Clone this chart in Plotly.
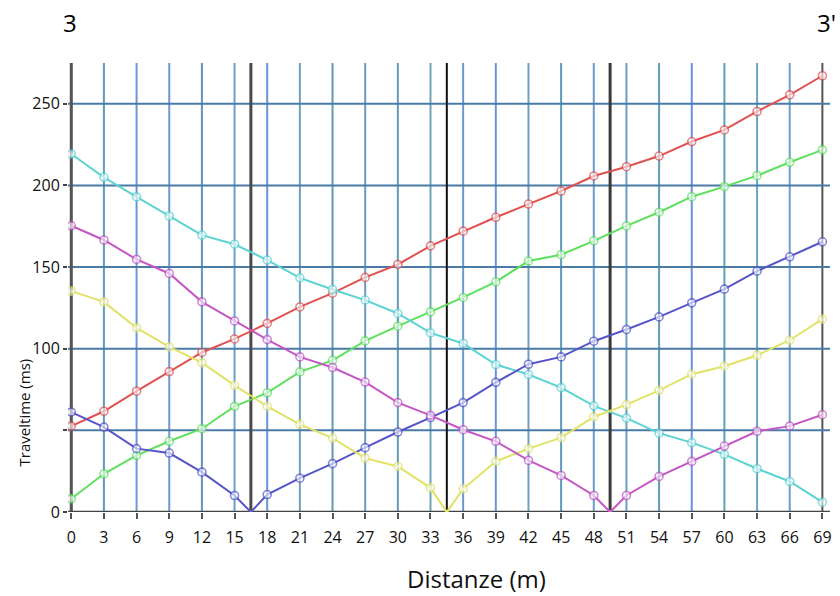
import plotly.graph_objects as go

# ---- data ----
distances = list(range(0, 70, 3))  # geophone positions (m)
x_tick_labels = [str(d) for d in distances]
y_tick_values = [0, 50, 100, 150, 200, 250]
y_tick_labels = ["0", "", "100", "150", "200", "250"]
sources = [16.5, 34.5, 49.5]  # shot positions (black vertical lines)

red = [52.6, 61.7, 74, 86, 97.7, 106, 115.5, 125.6, 134, 143.7, 151.6, 163, 172, 180.5,
       188.6, 196.6, 205.8, 211.5, 218, 226.9, 234, 245.3, 255.5, 267.2]
green = [8.1, 23.4, 34.7, 43.3, 51, 64.7, 73, 85.8, 92.9, 104.8, 113.8, 122.6, 131.4, 141,
         153.7, 157.6, 166.1, 175.2, 183.6, 193.1, 199.3, 206, 214.2, 221.8]
cyan = [219.3, 205, 193, 181.3, 169.6, 164, 154.3, 143.4, 136.3, 129.8, 121.6, 109.7, 103.2,
        90.3, 84.2, 76.2, 65, 57.5, 48.3, 42.5, 35.3, 26.5, 18.7, 6]
blue = [61.2, 52, 38.8, 36.1, 24.4, 10.1, 10.7, 20.7, 29.6, 39.4, 49, 57.8, 67, 79.4,
        90.5, 95, 104.6, 111.8, 119.5, 128.1, 136.5, 147.5, 156.3, 165.5]
yellow = [135.3, 128.7, 112.8, 101.1, 91.5, 77.6, 64.7, 53.7, 45.3, 33, 27.9, 14.8, 14.2,
          31, 38.8, 45.5, 58.2, 65.8, 74.5, 84.4, 89.3, 96, 105.2, 118.1]
magenta = [175.3, 166.6, 154.7, 146.1, 128.7, 117, 105.6, 95, 88.5, 79.6, 67, 59.2, 50.4,
           43.3, 31.6, 22.4, 10.1, 10.1, 21.8, 31, 40.4, 49.4, 52.6, 59.6]

series = [
    ("red", red, "#e05252", None),
    ("green", green, "#5ee05e", None),
    ("cyan", cyan, "#5cd3d3", None),
    ("blue", blue, "#5555c8", sources[0]),
    ("yellow", yellow, "#e2e266", sources[1]),
    ("magenta", magenta, "#c457c4", sources[2]),
]

# vertical grid colours vary slightly (blue / teal) in the original
vgrid_colors = ["#6f9fc0", "#5f9bb8", "#6a96d6", "#6f98d0", "#5f95b5", "#6aa0c8",
                "#6a94d8", "#6f9fbc", "#5f9ab5", "#6a9cc0", "#609cb4", "#6fa3b8",
                "#6a98d2", "#6a96d6", "#6f9fc0", "#5f9bb8", "#6a9cc8", "#6aa0c0",
                "#5f9bb8", "#6a8ee0", "#5fa3b8", "#6aa6c4", "#6f9fc0", "#555555"]

fig = go.Figure()

for name, vals, color, src in series:
    xs = list(distances)
    ys = list(vals)
    sizes = [8] * len(xs)
    if src is not None:
        i = next(k for k, d in enumerate(xs) if d > src)
        xs.insert(i, src)
        ys.insert(i, 0)
        sizes.insert(i, 3)
    fig.add_trace(go.Scatter(
        x=xs, y=ys, mode="lines+markers", name=name,
        line=dict(color=color, width=2),
        marker=dict(size=sizes, color="rgba(255,255,255,0.85)",
                    line=dict(color=color, width=1.6)),
        showlegend=False, hoverinfo="skip",
    ))

shapes = []
for d, c in zip(distances, vgrid_colors):
    shapes.append(dict(type="line", xref="x", yref="paper", x0=d, x1=d, y0=0, y1=1,
                       line=dict(color=c, width=2), layer="below"))
for v in y_tick_values:
    shapes.append(dict(type="line", xref="paper", yref="y", x0=0, x1=1, y0=v, y1=v,
                       line=dict(color="#4a7aa6", width=2), layer="below"))
src_styles = [("#4a4a4a", 3), ("#111111", 2), ("#3a3a3a", 3)]
for s, (c, w) in zip(sources, src_styles):
    shapes.append(dict(type="line", xref="x", yref="paper", x0=s, x1=s, y0=0, y1=1,
                       line=dict(color=c, width=w), layer="below"))
# frame lines (left at 0, bottom at 0)
shapes.append(dict(type="line", xref="x", yref="paper", x0=distances[0], x1=distances[0],
                   y0=0, y1=1, line=dict(color="#555555", width=3), layer="below"))
shapes.append(dict(type="line", xref="paper", yref="y", x0=0, x1=1, y0=0, y1=0,
                   line=dict(color="#444444", width=2.5), layer="below"))

font_family = "'Open Sans', 'Noto Sans', sans-serif"

fig.update_layout(
    width=840, height=596,
    margin=dict(l=68, r=10, t=63, b=84),
    paper_bgcolor="white", plot_bgcolor="white",
    font=dict(family=font_family, color="#111111"),
    shapes=shapes,
    xaxis=dict(
        range=[-0.3, 69.7], tickvals=distances, ticktext=x_tick_labels,
        showgrid=False, zeroline=False, automargin=False,
        ticks="outside", ticklen=6, tickwidth=2, tickcolor="#555555",
        tickfont=dict(size=16, family=font_family), showline=False,
        ticklabelstandoff=5,
    ),
    yaxis=dict(
        range=[0, 275], tickvals=y_tick_values, ticktext=y_tick_labels,
        showgrid=False, zeroline=False, automargin=False,
        ticks="outside", ticklen=4, tickwidth=2, tickcolor="#444444",
        tickfont=dict(size=16, family=font_family), showline=False,
    ),
    annotations=[
        dict(text="3", xref="x", yref="paper", x=-0.1, y=1.0, yshift=41,
             xanchor="center", yanchor="middle", showarrow=False,
             font=dict(size=24, family=font_family, color="#000000")),
        dict(text="3'", xref="x", yref="paper", x=69.4, y=1.0, yshift=41,
             xanchor="center", yanchor="middle", showarrow=False,
             font=dict(size=24, family=font_family, color="#000000")),
        dict(text="Distanze (m)", xref="x", yref="paper", x=37.2, y=0, yshift=-66,
             xanchor="center", yanchor="middle", showarrow=False,
             font=dict(size=24, family=font_family, color="#111111")),
        dict(text="Traveltime (ms)", xref="paper", yref="y", x=0, xshift=-44, y=61,
             xanchor="center", yanchor="middle", textangle=-90, showarrow=False,
             font=dict(size=15, family=font_family, color="#111111")),
    ],
)

fig.write_html("out.html", config={"displayModeBar": False},
               post_script="document.body.style.margin='0';")
